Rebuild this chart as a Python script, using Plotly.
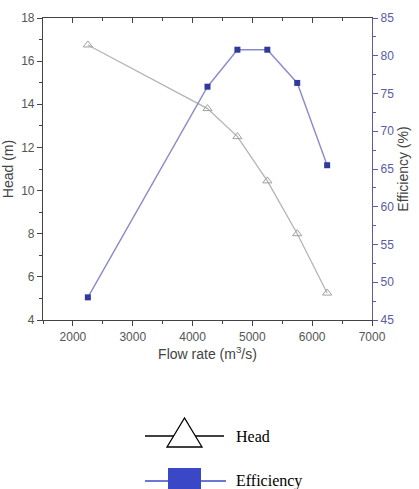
import plotly.graph_objects as go

flow = [2250, 4250, 4750, 5250, 5750, 6250]
head = [16.75, 13.8, 12.5, 10.45, 8.0, 5.25]
eff_flow = [2250, 4250, 4750, 5250, 5750, 6250]
efficiency = [48.0, 75.9, 80.8, 80.8, 76.4, 65.5]

W, H = 419, 489
L, R, T, B = 43, 372, 18, 320

def px(x):
    return (x - L) / (R - L)

def py(y):
    return (B - y) / (B - T)

fig = go.Figure()
fig.add_trace(go.Scatter(
    x=flow, y=head, mode="lines+markers", name="Head",
    line=dict(color="#b4b4b4", width=1.3),
    marker=dict(symbol="triangle-up-open", size=8, color="#a0a0a0", line=dict(width=1)),
    showlegend=False, cliponaxis=False))
fig.add_trace(go.Scatter(
    x=eff_flow, y=efficiency, mode="lines+markers", name="Efficiency", yaxis="y2",
    line=dict(color="#8a8ad0", width=1.4),
    marker=dict(symbol="square", size=6, color="#2f3a9c"),
    showlegend=False, cliponaxis=False))
# dummy trace for the top mirrored axis
fig.add_trace(go.Scatter(x=[None], y=[None], xaxis="x2", showlegend=False, hoverinfo="skip"))

tfam = "Liberation Sans Narrow, Liberation Sans, Arial"
tickfont = dict(family=tfam, size=12, color="#555555")
blue = "#5a5aa8"
titlefont = dict(family="Liberation Sans", size=14, color="#444")

fig.update_layout(
    width=W, height=H,
    margin=dict(l=L, r=W - R, t=T, b=H - B),
    paper_bgcolor="white", plot_bgcolor="white",
    showlegend=False,
    xaxis=dict(range=[1500, 7000], dtick=1000, tick0=0, ticks="outside", ticklen=5,
               tickcolor="#444", linecolor="#444", linewidth=1.2, showline=True,
               showgrid=False, zeroline=False, tickfont=tickfont, automargin=False,
               minor=dict(dtick=500, ticks="outside", ticklen=3, tickcolor="#444"),
               title=dict(text="Flow rate (m<sup>3</sup>/s)", standoff=6, font=titlefont)),
    xaxis2=dict(range=[1500, 7000], dtick=1000, tick0=0, overlaying="x", side="top",
                ticks="inside", ticklen=5, tickcolor="#444", linecolor="#444",
                linewidth=1.2, showline=True, showgrid=False, zeroline=False,
                showticklabels=False, automargin=False,
                minor=dict(dtick=500, ticks="inside", ticklen=3, tickcolor="#444")),
    yaxis=dict(range=[4, 18], dtick=2, ticks="outside", ticklen=5, tickcolor="#444",
               linecolor="#444", linewidth=1.2, showline=True, showgrid=False,
               zeroline=False, tickfont=tickfont, automargin=False,
               minor=dict(dtick=1, ticks="outside", ticklen=3, tickcolor="#444"),
               title=dict(text="Head (m)", standoff=5, font=titlefont)),
    yaxis2=dict(range=[45, 85], dtick=5, overlaying="y", side="right", anchor="x",
                ticks="outside", ticklen=5, tickcolor=blue, linecolor=blue,
                linewidth=1.2, showline=True, showgrid=False, zeroline=False,
                tickfont=dict(family=tfam, size=12, color=blue), automargin=False,
                minor=dict(dtick=2.5, ticks="outside", ticklen=3, tickcolor=blue),
                title=dict(text="Efficiency (%)", standoff=5, font=titlefont)),
)

# custom legend below the chart
shapes = []
shapes.append(dict(type="line", xref="paper", yref="paper",
                   x0=px(145), x1=px(224), y0=py(436), y1=py(436),
                   line=dict(color="black", width=1.3)))
tri = "M {},{} L {},{} L {},{} Z".format(px(167), py(447), px(202), py(447), px(184.5), py(418))
shapes.append(dict(type="path", xref="paper", yref="paper", path=tri,
                   fillcolor="white", line=dict(color="black", width=1.3)))
shapes.append(dict(type="line", xref="paper", yref="paper",
                   x0=px(145), x1=px(226), y0=py(481), y1=py(481),
                   line=dict(color="#3a48c8", width=1.5)))
shapes.append(dict(type="rect", xref="paper", yref="paper",
                   x0=px(168), x1=px(201), y0=py(468), y1=py(495),
                   fillcolor="#3a48c8", line=dict(color="#3a48c8", width=0)))
fig.update_layout(shapes=shapes)

legfont = dict(family="Liberation Serif", size=16, color="black")
fig.add_annotation(x=px(234), y=py(436), xref="paper", yref="paper", text="Head",
                   showarrow=False, xanchor="left", yanchor="middle", font=legfont)
fig.add_annotation(x=px(234), y=py(481), xref="paper", yref="paper", text="Efficiency",
                   showarrow=False, xanchor="left", yanchor="middle", font=legfont)

fig.write_html("out.html")
